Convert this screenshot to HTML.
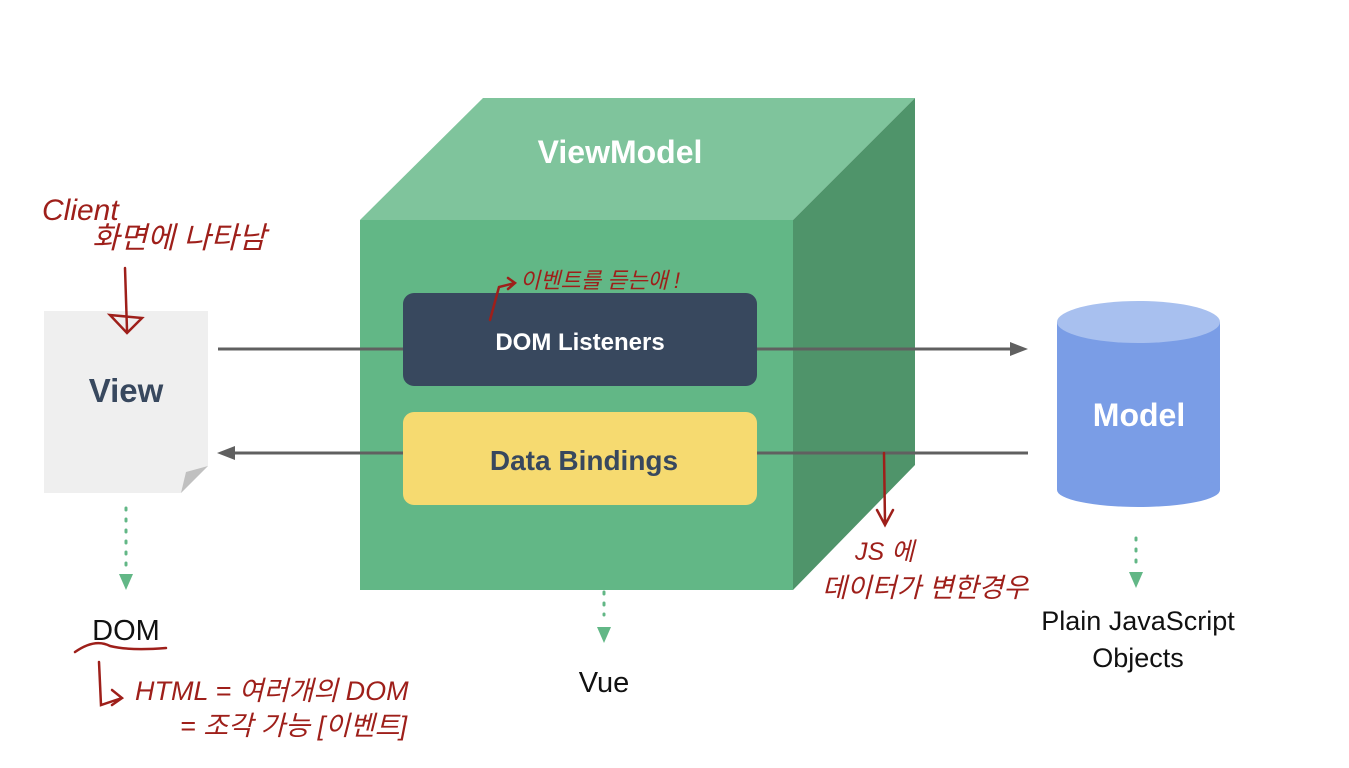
<!DOCTYPE html>
<html><head><meta charset="utf-8"><style>
html,body{margin:0;padding:0;background:#fff;width:1349px;height:768px;overflow:hidden}
svg{display:block}
.h{font-family:"Liberation Sans","Noto Sans CJK KR",sans-serif;fill:#9e1f1a;font-style:italic}
</style></head><body>
<svg width="1349" height="768" viewBox="0 0 1349 768">
<!-- cube -->
<polygon points="360,220 483,98 915,98 793,220" fill="#7fc49c"/>
<polygon points="793,220 915,98 915,465 793,590" fill="#4f946a"/>
<rect x="360" y="220" width="433" height="370" fill="#62b786"/>
<text x="620" y="163" text-anchor="middle" font-family="Liberation Sans,sans-serif" font-weight="bold" font-size="32" fill="#fff">ViewModel</text>
<!-- arrows -->
<line x1="218" y1="349" x2="1015" y2="349" stroke="#606060" stroke-width="3"/>
<polygon points="1028,349 1010,342 1010,356" fill="#606060"/>
<line x1="1028" y1="453" x2="230" y2="453" stroke="#606060" stroke-width="3"/>
<polygon points="217,453 235,446 235,460" fill="#606060"/>
<rect x="403" y="293" width="354" height="93" rx="11" fill="#38485e"/>
<text x="580" y="350" text-anchor="middle" font-family="Liberation Sans,sans-serif" font-weight="bold" font-size="24" fill="#fff">DOM Listeners</text>
<rect x="403" y="412" width="354" height="93" rx="11" fill="#f6da70"/>
<text x="584" y="470" text-anchor="middle" font-family="Liberation Sans,sans-serif" font-weight="bold" font-size="28" fill="#38485e">Data Bindings</text>
<!-- view -->
<polygon points="44,311 208,311 208,466 181,493 44,493" fill="#efefef"/>
<polygon points="208,466 181,493 186,472" fill="#c0c0c0"/>
<text x="126" y="402" text-anchor="middle" font-family="Liberation Sans,sans-serif" font-weight="bold" font-size="33" fill="#38485e">View</text>
<!-- model -->
<rect x="1057" y="322" width="163" height="168" fill="#7a9de6"/>
<ellipse cx="1138.5" cy="490" rx="81.5" ry="17" fill="#7a9de6"/>
<ellipse cx="1138.5" cy="322" rx="81.5" ry="21" fill="#a8c0ef"/>
<text x="1139" y="426" text-anchor="middle" font-family="Liberation Sans,sans-serif" font-weight="bold" font-size="32" fill="#fff">Model</text>
<!-- dotted arrows -->
<g stroke="#62b786" stroke-width="3" stroke-dasharray="2 9" stroke-linecap="round">
<line x1="126" y1="508" x2="126" y2="565"/><line x1="604" y1="592" x2="604" y2="615"/><line x1="1136" y1="538" x2="1136" y2="565"/>
</g>
<g fill="#62b786"><polygon points="119,574 133,574 126,590"/><polygon points="597,627 611,627 604,643"/><polygon points="1129,572 1143,572 1136,588"/></g>
<text x="126" y="640" text-anchor="middle" font-family="Liberation Sans,sans-serif" font-size="29" fill="#111">DOM</text>
<text x="604" y="692" text-anchor="middle" font-family="Liberation Sans,sans-serif" font-size="29" fill="#111">Vue</text>
<text x="1138" y="630" text-anchor="middle" font-family="Liberation Sans,sans-serif" font-size="27" fill="#111">Plain JavaScript</text>
<text x="1138" y="667" text-anchor="middle" font-family="Liberation Sans,sans-serif" font-size="27" fill="#111">Objects</text>
<!-- handwriting -->
<g stroke="#9e1f1a" stroke-width="2.5" fill="none" stroke-linecap="round">
<path d="M125,268 L127,330 M110,315 L127,333 L142,318 Z"/>
<path d="M75,652 Q95,638 110,646 Q130,651 166,648"/>
<path d="M99,662 L101,705 L122,698 M112,690 L122,698 L112,705"/>
<path d="M884,453 L885,522 M877,510 L885,525 L893,510"/>
<path d="M490,320 L499,287 L515,283 M508,278 L515,283 L508,289"/>
</g>
<text class="h" x="42" y="220" font-size="30">Client</text>
<text class="h" x="92" y="248" font-size="30">화면에 나타남</text>
<text class="h" x="520" y="288" font-size="22">이벤트를 듣는애 !</text>
<text class="h" x="135" y="700" font-size="27">HTML = 여러개의 DOM</text>
<text class="h" x="180" y="735" font-size="27">= 조각 가능 [이벤트]</text>
<text class="h" x="855" y="560" font-size="25">JS 에</text>
<text class="h" x="822" y="597" font-size="27">데이터가 변한경우</text>
</svg>
</body></html>
